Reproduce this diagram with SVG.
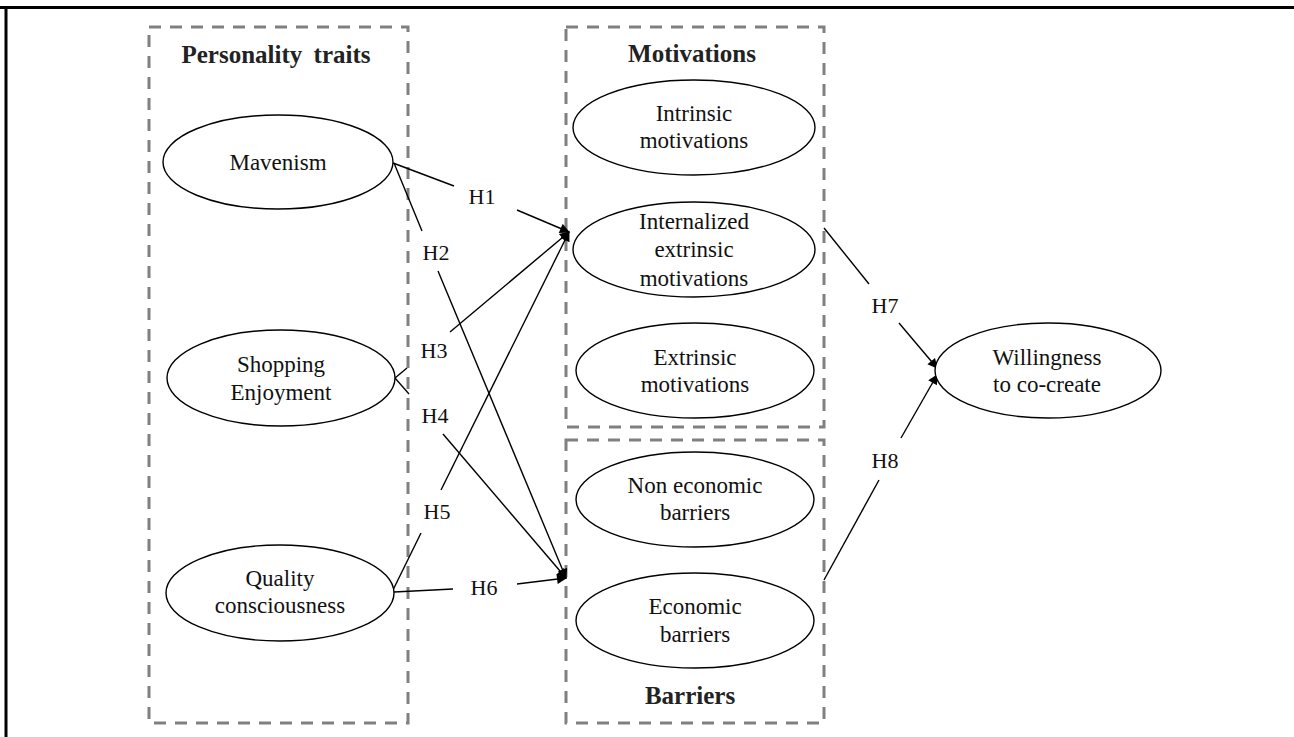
<svg xmlns="http://www.w3.org/2000/svg" width="1294" height="737" viewBox="0 0 1294 737">
<defs>
<style>
.frame{stroke:#000;stroke-width:3;fill:none}
.group{fill:none;stroke:#808080;stroke-width:3;stroke-dasharray:12 9}
.node ellipse{fill:#fff;stroke:#000;stroke-width:1.4}
.node text,.lbl{font-family:"Liberation Serif","Times New Roman",serif;font-size:23px;fill:#111;text-anchor:middle}
.lbl{font-size:22px}
.title{font-family:"Liberation Serif","Times New Roman",serif;font-size:25px;font-weight:bold;fill:#222;text-anchor:middle}
.edge{stroke:#000;stroke-width:1.4;fill:none}
</style>
<marker id="arr" viewBox="0 0 10 10" refX="9" refY="5" markerWidth="12" markerHeight="10" markerUnits="userSpaceOnUse" orient="auto">
<path d="M0,0 L10,5 L0,10 z" fill="#000"/>
</marker>
</defs>
<rect width="1294" height="737" fill="#fff"/>
<line class="frame" x1="0" y1="7.5" x2="1294" y2="7.5"/>
<line class="frame" x1="6" y1="7" x2="6" y2="737"/>

<g id="groups">
<rect class="group" x="149" y="27" width="259" height="696"/>
<rect class="group" x="566" y="27" width="258" height="400"/>
<rect class="group" x="566" y="440" width="258" height="283"/>
<text class="title" x="276" y="63" word-spacing="5">Personality traits</text>
<text class="title" x="692" y="62">Motivations</text>
<text class="title" x="690" y="704">Barriers</text>
</g>

<g id="connectors">
<line class="edge" x1="393" y1="163" x2="454" y2="186"/>
<line class="edge" x1="517" y1="210" x2="569" y2="232" marker-end="url(#arr)"/>
<text class="lbl" x="482" y="204">H1</text>

<line class="edge" x1="394" y1="163" x2="422" y2="231"/>
<line class="edge" x1="438" y1="271" x2="566" y2="578" marker-end="url(#arr)"/>
<text class="lbl" x="436" y="260">H2</text>

<line class="edge" x1="395" y1="378" x2="407" y2="368"/>
<line class="edge" x1="450" y1="332" x2="569" y2="232" marker-end="url(#arr)"/>
<text class="lbl" x="434" y="358">H3</text>

<line class="edge" x1="395" y1="378" x2="409" y2="394"/>
<line class="edge" x1="443" y1="434" x2="566" y2="578" marker-end="url(#arr)"/>
<text class="lbl" x="435" y="423">H4</text>

<line class="edge" x1="392" y1="592" x2="421" y2="533"/>
<line class="edge" x1="441" y1="490" x2="569" y2="232" marker-end="url(#arr)"/>
<text class="lbl" x="437" y="519">H5</text>

<line class="edge" x1="394" y1="592" x2="453" y2="589"/>
<line class="edge" x1="517" y1="584" x2="566" y2="578" marker-end="url(#arr)"/>
<text class="lbl" x="484" y="595">H6</text>

<line class="edge" x1="824" y1="228" x2="869" y2="284"/>
<line class="edge" x1="899" y1="323" x2="937" y2="368" marker-end="url(#arr)"/>
<text class="lbl" x="885" y="313">H7</text>

<line class="edge" x1="824" y1="580" x2="879" y2="480"/>
<line class="edge" x1="901" y1="438" x2="937" y2="375" marker-end="url(#arr)"/>
<text class="lbl" x="885" y="468">H8</text>
</g>

<g id="mavenism" class="node">
<ellipse cx="278" cy="162" rx="115" ry="47"/>
<text x="278" y="170">Mavenism</text>
</g>
<g id="shopping" class="node">
<ellipse cx="281" cy="378" rx="114" ry="48"/>
<text x="281" y="372">Shopping</text>
<text x="281" y="400">Enjoyment</text>
</g>
<g id="quality" class="node">
<ellipse cx="280" cy="593" rx="114" ry="48"/>
<text x="280" y="586">Quality</text>
<text x="280" y="613">consciousness</text>
</g>
<g id="intrinsic" class="node">
<ellipse cx="694" cy="127.5" rx="121" ry="47.5"/>
<text x="694" y="121">Intrinsic</text>
<text x="694" y="148">motivations</text>
</g>
<g id="internalized" class="node">
<ellipse cx="694" cy="249.5" rx="121" ry="47.5"/>
<text x="694" y="229">Internalized</text>
<text x="694" y="257">extrinsic</text>
<text x="694" y="286">motivations</text>
</g>
<g id="extrinsic" class="node">
<ellipse cx="695" cy="370.5" rx="119" ry="47.5"/>
<text x="695" y="365">Extrinsic</text>
<text x="695" y="392">motivations</text>
</g>
<g id="noneconomic" class="node">
<ellipse cx="695" cy="499.5" rx="119" ry="47.5"/>
<text x="695" y="493">Non economic</text>
<text x="695" y="520">barriers</text>
</g>
<g id="economic" class="node">
<ellipse cx="695" cy="620.5" rx="119" ry="47.5"/>
<text x="695" y="614">Economic</text>
<text x="695" y="642">barriers</text>
</g>
<g id="willingness" class="node">
<ellipse cx="1048" cy="370.5" rx="113" ry="47.5"/>
<text x="1047" y="365">Willingness</text>
<text x="1047" y="392">to co-create</text>
</g>
</svg>
